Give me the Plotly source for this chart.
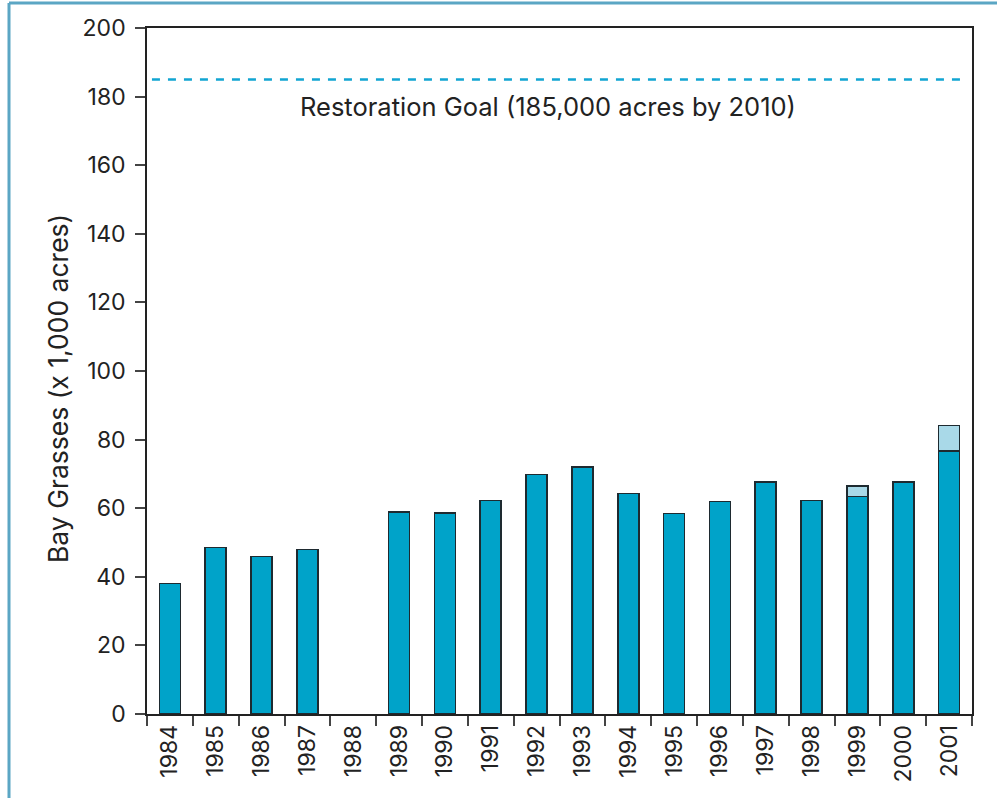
import plotly.graph_objects as go

years = [str(y) for y in range(1984, 2002)]
bay_grasses = [38.0, 48.6, 45.9, 48.0, None, 58.9, 58.6, 62.2, 69.8, 72.1,
               64.3, 58.5, 61.9, 67.7, 62.2, 63.4, 67.7, 76.6]
additional = [None] * 15 + [3.0, None, 7.5]
goal = 185
goal_label = "Restoration Goal (185,000 acres by 2010)"
y_title = "Bay Grasses (x 1,000 acres)"
y_ticks = list(range(0, 201, 20))

W, H = 997, 798
L, R, T, B = 147, 25, 28, 84
pw, ph = W - L - R, H - T - B

def px_x(p):
    return (p - L) / pw

def px_y(p):
    return (H - B - p) / ph

fnt = "Inter, Liberation Sans, Arial, sans-serif"

fig = go.Figure()
fig.add_trace(go.Bar(x=years, y=bay_grasses, width=0.46,
                     marker=dict(color="#00a3c9", line=dict(color="#1e2a30", width=1.6)),
                     showlegend=False))
fig.add_trace(go.Bar(x=years, y=additional, width=0.46,
                     marker=dict(color="#a9d9e8", line=dict(color="#1e2a30", width=1.6)),
                     showlegend=False))

fig.add_shape(type="line", xref="x domain", yref="y", x0=0.006, x1=0.988, y0=goal, y1=goal,
              line=dict(color="#12a5d2", width=2.5, dash="8px,8px"))
fig.add_annotation(xref="x domain", yref="y", x=px_x(548), y=goal - 7.8,
                   text=goal_label, showarrow=False,
                   font=dict(family=fnt, size=25.5, color="#222"))
fig.add_annotation(xref="paper", yref="paper", x=px_x(40), y=px_y(389),
                   text=y_title, showarrow=False, textangle=-90,
                   font=dict(family=fnt, size=26.5, color="#222"))

# outer frame
frame_col = "#5ba6c4"
fig.add_shape(type="line", xref="paper", yref="paper", x0=px_x(9), x1=px_x(9),
              y0=px_y(3), y1=px_y(800), line=dict(color=frame_col, width=3))
fig.add_shape(type="line", xref="paper", yref="paper", x0=px_x(9), x1=px_x(1000),
              y0=px_y(3), y1=px_y(3), line=dict(color=frame_col, width=3))

fig.update_layout(
    width=W, height=H, barmode="stack", bargap=0.54,
    margin=dict(l=L, r=R, t=T, b=B, autoexpand=False),
    paper_bgcolor="white", plot_bgcolor="white",
    font=dict(family=fnt, color="#222", size=23),
)
fig.update_xaxes(type="category", tickson="boundaries", ticks="outside", ticklen=10,
                 tickcolor="#444", tickwidth=1.5, tickangle=-90,
                 showline=True, linecolor="#222", linewidth=1.5, mirror=True,
                 showgrid=False, tickfont=dict(size=23), range=[-0.5, 17.5])
fig.update_yaxes(range=[0, 200], tickvals=y_ticks, ticks="outside", ticklen=10,
                 tickcolor="#444", tickwidth=1.5, showline=True, linecolor="#222",
                 linewidth=1.5, mirror=True, showgrid=False, zeroline=False,
                 tickfont=dict(size=23), ticklabelstandoff=5)

fig.write_html("out.html", config={"displayModeBar": False},
               post_script="document.body.style.margin='0';")
